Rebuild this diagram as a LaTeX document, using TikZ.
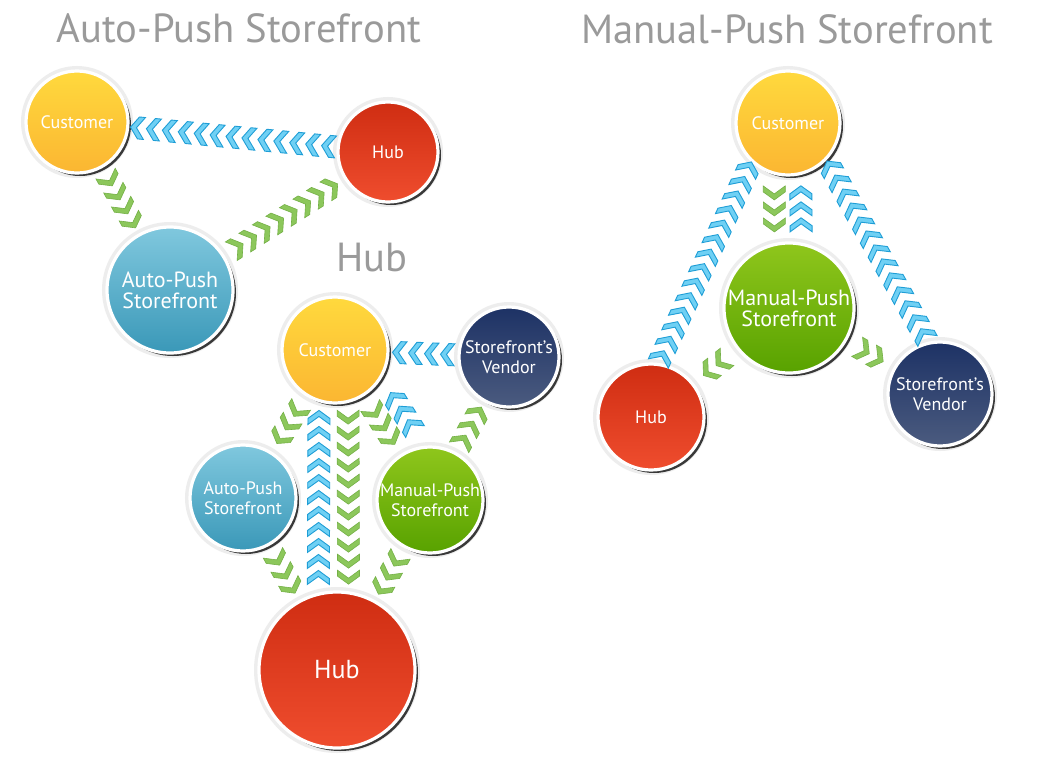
\documentclass[tikz,border=0pt]{standalone}
\usepackage{fontspec}
\setmainfont{PT Sans}
\usetikzlibrary{shadows,decorations.markings}

\definecolor{titulo}{HTML}{9A9A9A}
\definecolor{amareloA}{HTML}{FFD93D}
\definecolor{amareloB}{HTML}{FBB632}
\definecolor{vermelhoA}{HTML}{CF2D12}
\definecolor{vermelhoB}{HTML}{EF4D2E}
\definecolor{azulA}{HTML}{80C8DE}
\definecolor{azulB}{HTML}{3A98B8}
\definecolor{verdeA}{HTML}{8FC61C}
\definecolor{verdeB}{HTML}{58A200}
\definecolor{marinhoA}{HTML}{1D3265}
\definecolor{marinhoB}{HTML}{4B5B7F}
\definecolor{setaazul}{HTML}{6FD0F4}
\definecolor{setaazulB}{HTML}{1F9ED6}
\definecolor{setaverde}{HTML}{8CC75B}
\definecolor{setaverdeB}{HTML}{74B046}

% uma seta (indice, total, estilo)
\newcommand{\seta}[3]{%
  \filldraw[#3, xshift={(#1-(#2+1)/2)*8pt}] (-3.5pt,5.5pt) -- (-0.5pt,5.5pt) -- (3.5pt,0pt)
    -- (-0.5pt,-5.5pt) -- (-3.5pt,-5.5pt) -- (0.5pt,0pt) -- cycle;}

\tikzset{
  bola/.style={circle, minimum size=#1pt, inner sep=0pt, outer sep=2.5pt,
    draw=white, line width=1.6pt, text=white, align=center,
    font=\fontsize{9}{10}\selectfont,
    preaction={draw=black!7, line width=5pt},
    drop shadow={shadow xshift=1.5pt, shadow yshift=-1.5pt, fill=black!85, opacity=.9}},
  cliente/.style={bola=#1, top color=amareloA, bottom color=amareloB},
  hub/.style={bola=#1, top color=vermelhoA, bottom color=vermelhoB},
  auto/.style={bola=#1, top color=azulA, bottom color=azulB},
  manual/.style={bola=#1, top color=verdeA, bottom color=verdeB},
  vendedor/.style={bola=#1, top color=marinhoA, bottom color=marinhoB},
  grande/.style={font=\fontsize{11}{10.5}\selectfont},
  titulo/.style={text=titulo, inner sep=0pt, font=\fontsize{20.3}{21}\selectfont},
  setab/.style={fill=setaazul, draw=setaazulB, line width=0.45pt},
  setav/.style={fill=setaverde, draw=setaverdeB, line width=0.3pt},
  azuis/.style={postaction={decorate, decoration={markings,
    mark=at position 0.5 with {\foreach \k in {1,...,#1} {\seta{\k}{#1}{setab}}}}}},
  verdes/.style={postaction={decorate, decoration={markings,
    mark=at position 0.5 with {\foreach \k in {1,...,#1} {\seta{\k}{#1}{setav}}}}}},
}

\begin{document}
\begin{tikzpicture}[x=0.5pt, y=-0.5pt]
  \useasboundingbox (0,0) rectangle (1050,772);
  \fill[white] (0,0) rectangle (1050,772);

  %titulos
  \node[titulo] (t1) at (239, 28) {Auto-Push Storefront};
  \node[titulo] (t2) at (372, 258) {Hub};
  \node[titulo] (t3) at (787, 29) {Manual-Push Storefront};

  %vértices
  \path (77, 122) node[cliente=51](a1){Customer}
        (388, 152) node[hub=50](a2){Hub}
        (170, 290) node[auto=63, grande](a3){Auto-Push\\Storefront}
        (335, 350) node[cliente=53](b1){Customer}
        (509, 357) node[vendedor=50](b2){Storefront’s\\Vendor}
        (243, 498) node[auto=53](b3){Auto-Push\\Storefront}
        (430, 500) node[manual=53](b4){Manual-Push\\Storefront}
        (337, 670) node[hub=78, font=\fontsize{13}{13}\selectfont](b5){Hub}
        (788, 123) node[cliente=52](c1){Customer}
        (789, 308) node[manual=65, grande](c2){Manual-Push\\Storefront}
        (651, 417) node[hub=53](c3){Hub}
        (940, 394) node[vendedor=52](c4){Storefront’s\\Vendor};

  %setas
  \path[azuis=13] (a2) -- (a1);
  \path[verdes=4] (a1) -- (a3);
  \path[verdes=8] (a3) -- (a2);

  \path[azuis=4] (b2) -- (b1);
  \path[verdes=3] (b1) -- (b3);
  \path[azuis=11] (b5.103) -- (b1.-106);
  \path[verdes=11] (b1.-77) -- (b5.82);
  \path[verdes=3] (b1) -- (b4);
  \path[azuis=3] (b4.98) -- (b1.-33);
  \path[verdes=3] (b4) -- (b2);
  \path[verdes=3] (b3) -- (b5);
  \path[verdes=3] (b4) -- (b5);

  \path[azuis=14] (c3.81) -- (c1.228);
  \path[azuis=13] (c4.104) -- (c1.-45);
  \path[verdes=3] (c1.-104) -- (c2.102);
  \path[azuis=3] (c2.80) -- (c1.-77);
  \path[verdes=2] (c2) -- (c3);
  \path[verdes=2] (c2) -- (c4);
\end{tikzpicture}
\end{document}
